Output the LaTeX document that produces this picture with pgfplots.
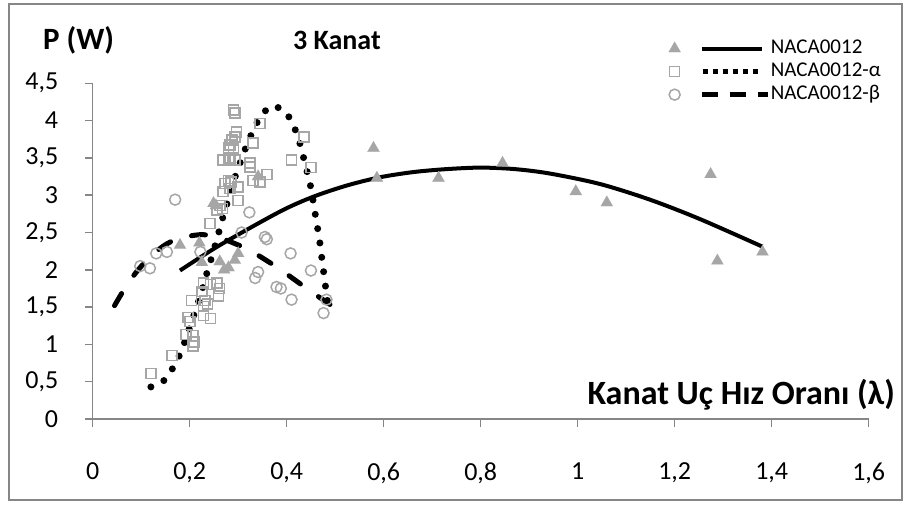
\documentclass[border=0pt]{standalone}
\usepackage{fontspec}
\setmainfont{Carlito}
\usepackage{pgfplots}
\pgfplotsset{compat=1.18}

\definecolor{axisgray}{RGB}{134,134,134}
\definecolor{markgray}{RGB}{166,166,166}

\begin{document}
\begin{tikzpicture}[x=1pt,y=1pt]
\useasboundingbox (-92.7,-85) rectangle (816.3,419);
% chart frame
\draw[axisgray, line width=1.5pt] (-83.7,-81) rectangle (809.3,415);
\begin{axis}[
  at={(0,0)}, anchor=south west,
  scale only axis, width=776pt, height=335.7pt,
  xmin=0, xmax=1.6, ymin=0, ymax=4.5,
  axis x line*=bottom, axis y line*=left,
  axis line style={draw=axisgray, line width=1.5pt},
  xtick={0,0.2,0.4,0.6,0.8,1,1.2,1.4,1.6},
  ytick={0,0.5,1,1.5,2,2.5,3,3.5,4,4.5},
  tick style={draw=axisgray, line width=1.5pt},
  major tick length=8pt, tick align=outside,
  xticklabel style={font=\fontsize{26}{30}\selectfont, yshift=-32pt},
  yticklabel style={font=\fontsize{26}{30}\selectfont, xshift=-23pt},
  /pgf/number format/use comma,
  /pgf/number format/1000 sep={},
  /pgf/number format/assume math mode=true,
  every axis title shift=0pt,
  title={3 Kanat},
  title style={at={(rel axis cs:0.258,1.102)}, anchor=base west, inner sep=0pt,
    font=\fontsize{28}{32}\selectfont\bfseries},
  xlabel={Kanat Uç Hız Oranı (λ)},
  xlabel style={at={(rel axis cs:1.034,0.042)}, anchor=base east, inner sep=0pt,
    font=\fontsize{34}{38}\selectfont\bfseries},
  ylabel={P (W)},
  ylabel style={rotate=-90, at={(rel axis cs:-0.064,1.102)}, anchor=base west, inner sep=0pt,
    font=\fontsize{31}{35}\selectfont\bfseries},
  legend style={at={(rel axis cs:0.738,1.144)}, anchor=north west, draw=none, fill=none,
    font=\fontsize{21}{25}\selectfont, row sep=0pt,
    nodes={inner sep=1pt, text height=15pt, text depth=6pt}},
  legend cell align=left,
]
% measured points
\addplot[only marks, mark=triangle*, mark size=7pt,
  mark options={fill=markgray, draw=markgray, line width=0.1pt}, forget plot] table {
x y
0.180 2.33
0.220 2.36
0.225 2.10
0.249 2.89
0.254 2.86
0.262 2.11
0.271 2.00
0.280 2.03
0.293 2.13
0.300 2.22
0.341 3.25
0.579 3.63
0.586 3.23
0.713 3.23
0.845 3.43
0.996 3.05
1.060 2.90
1.274 3.28
1.288 2.12
1.381 2.24
};
\addplot[only marks, mark=square, mark size=5pt,
  mark options={draw=markgray, line width=1.5pt}, forget plot] table {
x y
0.120 0.61
0.163 0.85
0.192 1.13
0.207 1.12
0.209 1.03
0.207 0.98
0.197 1.36
0.201 1.31
0.204 1.59
0.232 1.59
0.228 1.51
0.237 1.54
0.228 1.39
0.243 1.35
0.228 1.82
0.243 1.80
0.256 1.82
0.261 1.75
0.259 1.65
0.225 1.71
0.242 2.62
0.256 2.80
0.262 2.86
0.268 2.82
0.300 2.93
0.269 3.05
0.283 3.09
0.300 3.11
0.273 3.16
0.280 3.20
0.285 3.18
0.331 3.20
0.345 3.18
0.359 3.28
0.324 3.38
0.324 3.43
0.269 3.47
0.283 3.47
0.293 3.47
0.280 3.50
0.280 3.63
0.290 3.63
0.283 3.67
0.287 3.74
0.293 3.78
0.297 3.85
0.331 3.70
0.345 3.96
0.290 4.14
0.293 4.10
0.410 3.47
0.436 3.78
0.450 3.37
};
\addplot[only marks, mark=o, mark size=5.5pt,
  mark options={draw=markgray, line width=1.5pt}, forget plot] table {
x y
0.098 2.05
0.118 2.02
0.131 2.22
0.153 2.24
0.170 2.94
0.222 2.24
0.307 2.50
0.323 2.77
0.355 2.44
0.359 2.41
0.341 1.97
0.335 1.89
0.379 1.77
0.388 1.75
0.408 2.22
0.410 1.60
0.450 1.99
0.482 1.60
0.476 1.42
};
% trend curves
\addplot[black, line width=4pt, smooth,
  legend image code/.code={%
    \begin{scope}[solid, mark size=7pt, fill=markgray, draw=markgray, line width=0.1pt]
      \pgfuseplotmark{triangle*}
    \end{scope}
    \draw[solid, black, line width=4pt] (27pt,0pt) -- (87pt,0pt);
  }] table {
x y
0.180 1.99
0.262 2.33
0.386 2.78
0.455 2.98
0.524 3.13
0.592 3.24
0.661 3.31
0.730 3.35
0.800 3.37
0.870 3.35
0.943 3.29
1.046 3.15
1.149 2.94
1.252 2.68
1.381 2.31
};
\addlegendentry{NACA0012}
\addplot[black, line width=7pt, line cap=round, dash pattern=on 0pt off 14.5pt, smooth,
  legend image code/.code={%
    \begin{scope}[solid, mark size=5pt, draw=markgray, line width=1.5pt]
      \pgfuseplotmark{square}
    \end{scope}
    \draw[black, line cap=butt, line width=4.5pt, dash pattern=on 5pt off 5pt] (28pt,0pt) -- (87pt,0pt);
  }] table {
x y
0.120 0.43
0.146 0.51
0.164 0.67
0.178 0.84
0.189 1.02
0.199 1.21
0.209 1.40
0.219 1.59
0.228 1.78
0.236 1.97
0.245 2.16
0.254 2.36
0.262 2.55
0.270 2.74
0.279 2.93
0.287 3.13
0.298 3.32
0.308 3.51
0.319 3.69
0.331 3.87
0.345 4.04
0.367 4.19
0.393 4.14
0.410 3.99
0.422 3.80
0.431 3.61
0.438 3.41
0.446 3.22
0.452 3.02
0.457 2.82
0.462 2.62
0.467 2.43
0.471 2.23
0.475 2.03
0.479 1.83
0.483 1.63
0.487 1.43
};
\addlegendentry{NACA0012-α}
\addplot[black, line width=5pt, line cap=round, dash pattern=on 14pt off 22pt, smooth,
  legend image code/.code={%
    \begin{scope}[solid, mark size=5.5pt, draw=markgray, line width=1.5pt]
      \pgfuseplotmark{o}
    \end{scope}
    \draw[black, line cap=butt, line width=4.5pt, dash pattern=on 16pt off 12pt] (27pt,0pt) -- (93pt,0pt);
  }] table {
x y
0.045 1.52
0.067 1.76
0.090 1.97
0.115 2.15
0.146 2.32
0.177 2.42
0.220 2.47
0.252 2.45
0.290 2.36
0.324 2.26
0.362 2.11
0.390 1.99
0.422 1.84
0.452 1.70
0.486 1.55
0.517 1.41
};
\addlegendentry{NACA0012-β}
\end{axis}
\end{tikzpicture}
\end{document}
